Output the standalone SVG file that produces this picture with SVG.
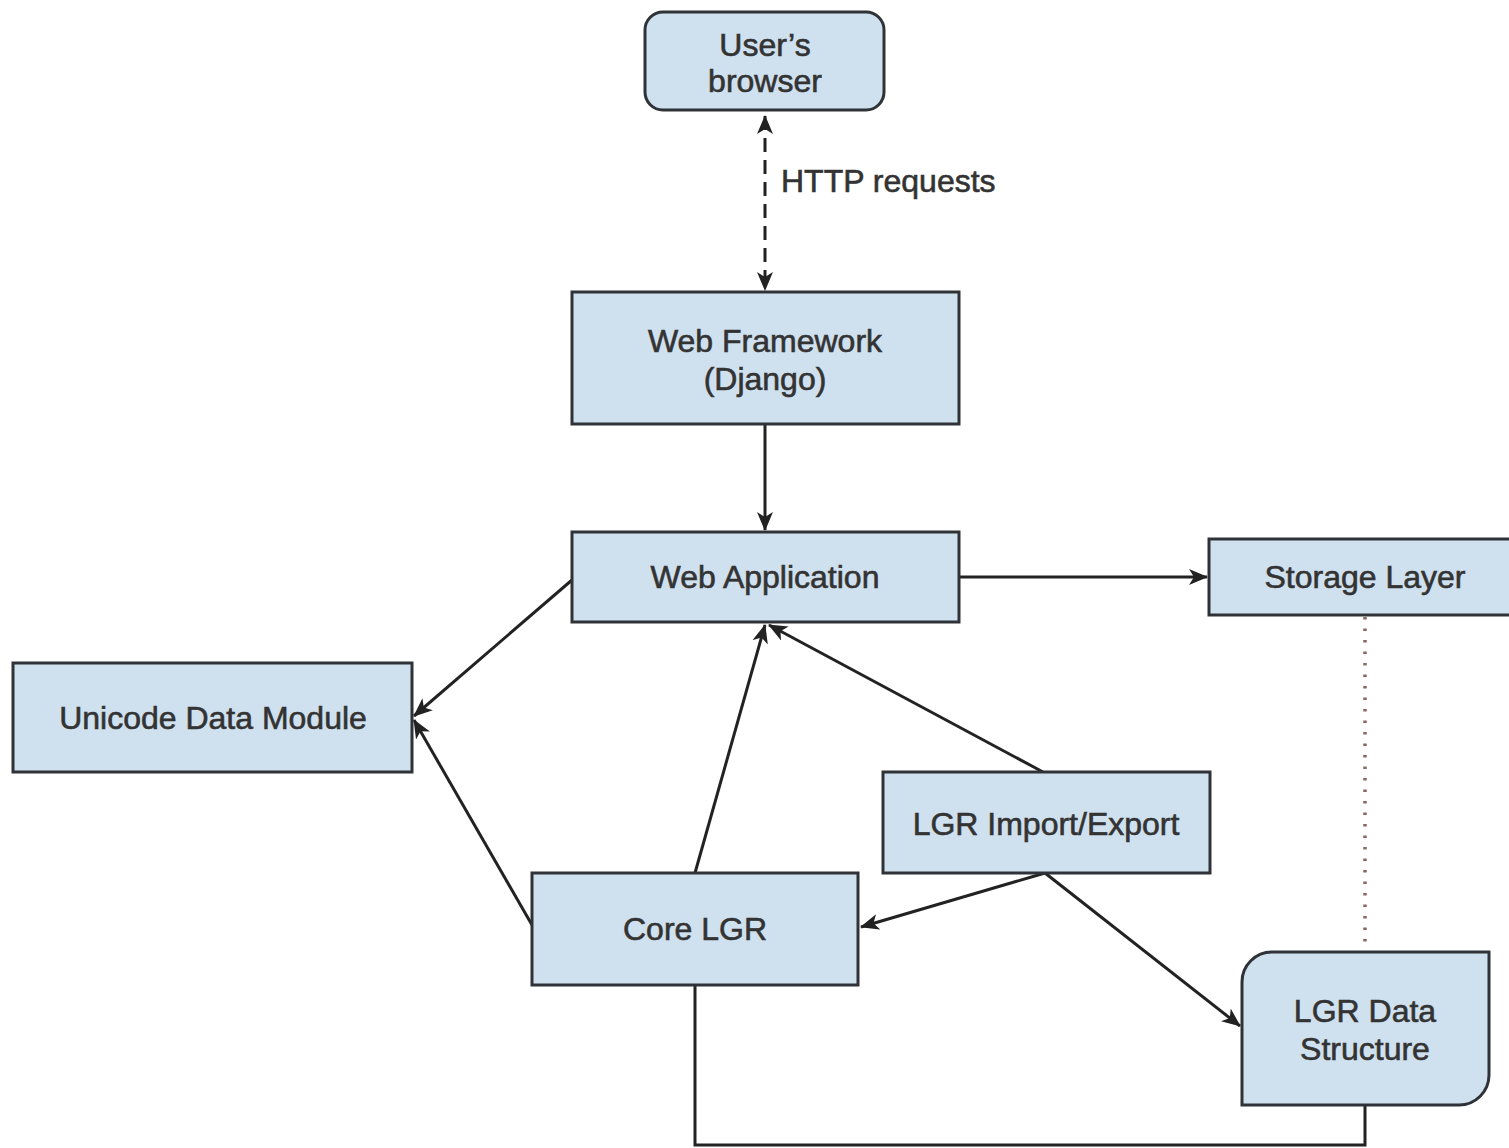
<svg xmlns="http://www.w3.org/2000/svg" width="1509" height="1148" viewBox="0 0 1509 1148">
<defs>
<style>
.node{fill:#cfe0ee;stroke:#2f3236;stroke-width:3}
.t{font-family:"Liberation Sans",Arial,sans-serif;font-size:32px;fill:#333;stroke:#333;stroke-width:0.6;text-anchor:middle}
.lbl{font-family:"Liberation Sans",Arial,sans-serif;font-size:32px;fill:#333;stroke:#333;stroke-width:0.6}
.c{fill:none;stroke:#222;stroke-width:3}
</style>
<marker id="ah" markerUnits="userSpaceOnUse" markerWidth="20" markerHeight="16" refX="18" refY="8" orient="auto-start-reverse">
<path d="M0,0 L19,8 L0,16 L5,8 Z" fill="#222"/>
</marker>
</defs>
<rect width="1509" height="1148" fill="#fff"/>
<g id="connectors">
<line class="c" x1="765" y1="116" x2="765" y2="290" stroke-dasharray="14 8" marker-start="url(#ah)" marker-end="url(#ah)"/>
<line class="c" x1="765" y1="424" x2="765" y2="530" marker-end="url(#ah)"/>
<line class="c" x1="959" y1="577" x2="1207" y2="577" marker-end="url(#ah)"/>
<line x1="1365" y1="617" x2="1365" y2="950" stroke="#8a6a5e" stroke-width="3.5" stroke-dasharray="2.5 9"/>
<line class="c" x1="572" y1="580" x2="414" y2="716" marker-end="url(#ah)"/>
<line class="c" x1="532" y1="925" x2="414" y2="720" marker-end="url(#ah)"/>
<line class="c" x1="695" y1="873" x2="765" y2="625" marker-end="url(#ah)"/>
<line class="c" x1="1043" y1="772" x2="769" y2="625" marker-end="url(#ah)"/>
<line class="c" x1="1045" y1="873" x2="861" y2="927" marker-end="url(#ah)"/>
<line class="c" x1="1045" y1="873" x2="1240" y2="1026" marker-end="url(#ah)"/>
<polyline class="c" points="695,985 695,1145 1365,1145 1365,1105"/>
</g>
<g id="users-browser">
<rect class="node" x="645" y="12" width="239" height="98" rx="18"/>
<text class="t" x="765" y="56">User’s</text>
<text class="t" x="765" y="92">browser</text>
</g>
<text class="lbl" x="781" y="192">HTTP requests</text>
<g id="web-framework">
<rect class="node" x="572" y="292" width="387" height="132"/>
<text class="t" x="765" y="352">Web Framework</text>
<text class="t" x="765" y="390">(Django)</text>
</g>
<g id="web-application">
<rect class="node" x="572" y="532" width="387" height="90"/>
<text class="t" x="765" y="588">Web Application</text>
</g>
<g id="storage-layer">
<rect class="node" x="1209" y="539" width="310" height="76"/>
<text class="t" x="1365" y="588">Storage Layer</text>
</g>
<g id="unicode-data-module">
<rect class="node" x="13" y="663" width="399" height="109"/>
<text class="t" x="213" y="729">Unicode Data Module</text>
</g>
<g id="lgr-import-export">
<rect class="node" x="883" y="772" width="327" height="101"/>
<text class="t" x="1046" y="835">LGR Import/Export</text>
</g>
<g id="core-lgr">
<rect class="node" x="532" y="873" width="326" height="112"/>
<text class="t" x="695" y="940">Core LGR</text>
</g>
<g id="lgr-data-structure">
<path class="node" d="M1272,952 H1489 V1075 A30,30 0 0 1 1459,1105 H1242 V982 A30,30 0 0 1 1272,952 Z"/>
<text class="t" x="1365" y="1022">LGR Data</text>
<text class="t" x="1365" y="1060">Structure</text>
</g>
</svg>
